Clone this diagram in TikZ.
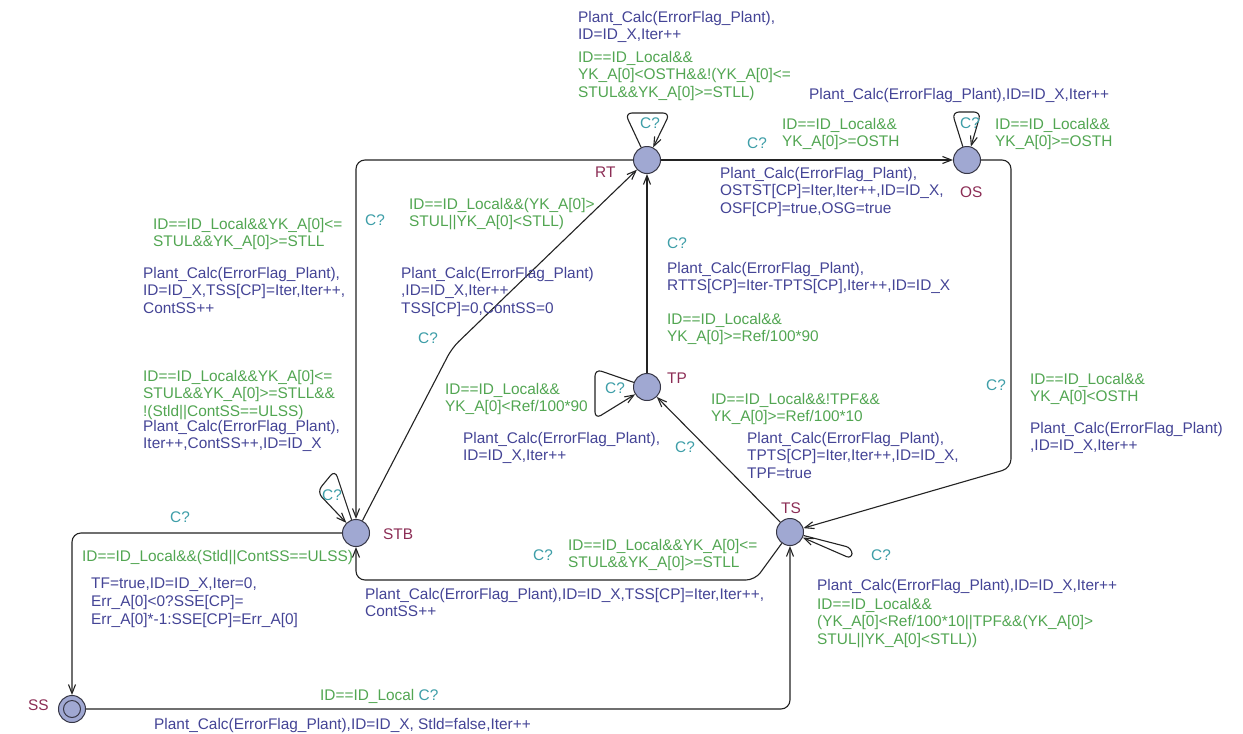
\documentclass[tikz,border=0pt]{standalone}
\usepackage{fontspec}
\setmainfont{Liberation Sans}
\usetikzlibrary{arrows.meta}
\definecolor{updc}{RGB}{68,68,150}
\definecolor{grdc}{RGB}{82,166,82}
\definecolor{sync}{RGB}{62,158,168}
\definecolor{namc}{RGB}{140,45,85}
\definecolor{locfill}{RGB}{160,168,210}
\definecolor{locline}{RGB}{55,55,70}
\definecolor{edgec}{RGB}{35,35,35}
\begin{document}
\begin{tikzpicture}[x=1pt,y=-1pt,
  loc/.style={circle,draw=locline,fill=locfill,line width=1pt,minimum size=27pt,inner sep=0pt},
  edge/.style={draw=edgec,line width=1.1pt,rounded corners=9pt,-{Straight Barb[length=9pt,width=7pt]}},
  lbl/.style={anchor=north west,inner sep=0pt,align=left,font=\fontsize{15.4}{17.6}\selectfont},
  upd/.style={lbl,text=updc},
  grd/.style={lbl,text=grdc},
  syn/.style={lbl,text=sync},
  nm/.style={lbl,text=namc}]
\fill[white] (0,0) rectangle (1243,734);
\useasboundingbox (0,0) rectangle (1243,734);

% locations
\node[loc] (RT)  at (647,160) {};
\node[loc] (OS)  at (967,160) {};
\node[loc] (TP)  at (647,387) {};
\node[loc] (STB) at (356,533) {};
\node[loc] (TS)  at (790,532) {};
\node[loc] (SS)  at (72,709) {};
\draw[locline,line width=1pt] (SS.center) circle [radius=8.5];

% location names
\node[nm] (nRT)  at (595,167) {RT};
\node[nm] (nOS)  at (960,187) {OS};
\node[nm] (nTP)  at (667,373) {TP};
\node[nm] (nSTB) at (383,529) {STB};
\node[nm] (nTS)  at (781,503) {TS};
\node[nm] (nSS)  at (28,700)  {SS};

% transitions
\draw[edge,rounded corners=7pt] (RT) -- (625,113) -- (670,113) -- (RT);
\draw[edge] (RT) -- (OS);
\draw[edge,rounded corners=7pt] (OS) -- (952,112) -- (981,112) -- (OS);
\draw[edge] (OS) -- (1011,160) -- (1011,468) -- (TS);
\draw[edge] (TP) -- (RT);
\draw[edge,rounded corners=7pt] (TP) -- (595,369) -- (595,419) -- (TP);
\draw[edge] (TS) -- (TP);
\draw[edge] (STB) -- (452,348) -- (RT);
\draw[edge] (RT) -- (356,160) -- (STB);
\draw[edge,rounded corners=7pt] (STB) -- (335,470) -- (317,492) -- (STB);
\draw[edge] (STB) -- (72,533) -- (SS);
\draw[edge] (SS) -- (790,709) -- (TS);
\draw[edge] (TS) -- (755,580) -- (356,580) -- (STB);
\draw[edge,rounded corners=6pt] (TS) -- (852,548) -- (852,559) -- (TS);

% RT self loop
\node[upd] (u1) at (578,11) {Plant\_Calc(ErrorFlag\_Plant),\\ID=ID\_X,Iter++};
\node[grd] (g1) at (578,51) {ID==ID\_Local\&\&\\YK\_A[0]<OSTH\&\&!(YK\_A[0]<=\\STUL\&\&YK\_A[0]>=STLL)};
\node[syn] (s1) at (640,118) {C?};

% RT -> OS
\node[syn] (s2) at (747,138) {C?};
\node[grd] (g2) at (782,118) {ID==ID\_Local\&\&\\YK\_A[0]>=OSTH};
\node[upd] (u2) at (720,167) {Plant\_Calc(ErrorFlag\_Plant),\\OSTST[CP]=Iter,Iter++,ID=ID\_X,\\OSF[CP]=true,OSG=true};

% OS self loop
\node[upd] (u3) at (809,88) {Plant\_Calc(ErrorFlag\_Plant),ID=ID\_X,Iter++};
\node[syn] (s3) at (960,118) {C?};
\node[grd] (g3) at (995,118) {ID==ID\_Local\&\&\\YK\_A[0]>=OSTH};

% OS -> TS
\node[syn] (s4) at (986,380) {C?};
\node[grd] (g4) at (1030,373) {ID==ID\_Local\&\&\\YK\_A[0]<OSTH};
\node[upd] (u4) at (1030,422) {Plant\_Calc(ErrorFlag\_Plant)\\,ID=ID\_X,Iter++};

% TP -> RT
\node[syn] (s5) at (667,238) {C?};
\node[upd] (u5) at (667,262) {Plant\_Calc(ErrorFlag\_Plant),\\RTTS[CP]=Iter-TPTS[CP],Iter++,ID=ID\_X};
\node[grd] (g5) at (667,313) {ID==ID\_Local\&\&\\YK\_A[0]>=Ref/100*90};

% TP self loop
\node[syn] (s6) at (605,383) {C?};
\node[grd] (g6) at (445,383) {ID==ID\_Local\&\&\\YK\_A[0]<Ref/100*90};
\node[upd] (u6) at (463,432) {Plant\_Calc(ErrorFlag\_Plant),\\ID=ID\_X,Iter++};

% TS -> TP
\node[syn] (s7) at (675,442) {C?};
\node[grd] (g7) at (711,393) {ID==ID\_Local\&\&!TPF\&\&\\YK\_A[0]>=Ref/100*10};
\node[upd] (u7) at (747,432) {Plant\_Calc(ErrorFlag\_Plant),\\TPTS[CP]=Iter,Iter++,ID=ID\_X,\\TPF=true};

% STB -> RT
\node[grd] (g8) at (409,198) {ID==ID\_Local\&\&(YK\_A[0]>\\STUL||YK\_A[0]<STLL)};
\node[upd] (u8) at (401,267) {Plant\_Calc(ErrorFlag\_Plant)\\,ID=ID\_X,Iter++\\TSS[CP]=0,ContSS=0};
\node[syn] (s8) at (418,333) {C?};

% RT -> STB
\node[syn] (s9) at (365,215) {C?};
\node[grd] (g9) at (153,218) {ID==ID\_Local\&\&YK\_A[0]<=\\STUL\&\&YK\_A[0]>=STLL};
\node[upd] (u9) at (143,267) {Plant\_Calc(ErrorFlag\_Plant),\\ID=ID\_X,TSS[CP]=Iter,Iter++,\\ContSS++};

% STB self loop
\node[syn] (s10) at (322,490) {C?};
\node[grd] (g10) at (143,370) {ID==ID\_Local\&\&YK\_A[0]<=\\STUL\&\&YK\_A[0]>=STLL\&\&\\!(Stld||ContSS==ULSS)};
\node[upd] (u10) at (143,420) {Plant\_Calc(ErrorFlag\_Plant),\\Iter++,ContSS++,ID=ID\_X};

% STB -> SS
\node[syn] (s11) at (170,512) {C?};
\node[grd] (g11) at (82,550) {ID==ID\_Local\&\&(Stld||ContSS==ULSS)};
\node[upd] (u11) at (91,578) {TF=true,ID=ID\_X,Iter=0,\\Err\_A[0]<0?SSE[CP]=\\Err\_A[0]*-1:SSE[CP]=Err\_A[0]};

% SS -> TS
\node[lbl] (g12) at (320,689) {\textcolor{grdc}{ID==ID\_Local} \textcolor{sync}{C?}};
\node[upd] (u12) at (154,718) {Plant\_Calc(ErrorFlag\_Plant),ID=ID\_X, Stld=false,Iter++};

% TS -> STB
\node[syn] (s13) at (533,550) {C?};
\node[grd] (g13) at (568,539) {ID==ID\_Local\&\&YK\_A[0]<=\\STUL\&\&YK\_A[0]>=STLL};
\node[upd] (u13) at (365,588) {Plant\_Calc(ErrorFlag\_Plant),ID=ID\_X,TSS[CP]=Iter,Iter++,\\ContSS++};

% TS self loop
\node[syn] (s14) at (871,550) {C?};
\node[upd] (u14) at (817,579) {Plant\_Calc(ErrorFlag\_Plant),ID=ID\_X,Iter++};
\node[grd] (g14) at (817,598) {ID==ID\_Local\&\&\\(YK\_A[0]<Ref/100*10||TPF\&\&(YK\_A[0]>\\STUL||YK\_A[0]<STLL))};
\end{tikzpicture}
\end{document}
